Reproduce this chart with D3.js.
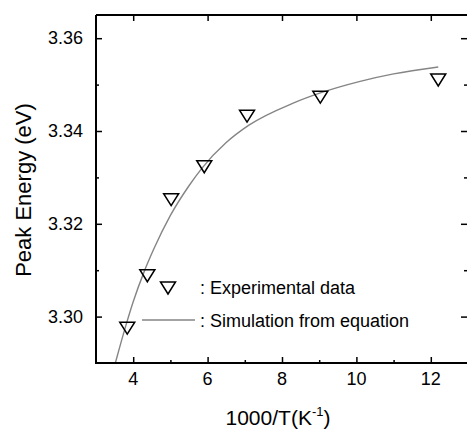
<!DOCTYPE html>
<html>
<head>
<meta charset="utf-8">
<script src="https://cdn.jsdelivr.net/npm/d3@7"></script>
<style>
  body { margin: 0; background: #fff; }
  text { font-family: "Liberation Sans", Arial, sans-serif; fill: #000; }
</style>
</head>
<body>
<div id="chart"></div>
<script>
// experimental points (1000/T, peak energy)
var expX = [3.84, 4.38, 5.02, 5.91, 7.06, 9.03, 12.2];
var expY = [3.2975, 3.3088, 3.3252, 3.3323, 3.3432, 3.3473, 3.3510];

// simulated curve
var simX = [3.52, 3.80, 4.00, 4.30, 4.55, 5.00, 5.50, 5.85, 6.50, 7.10, 8.30, 9.03, 10.10, 11.00, 12.20];
var simY = [3.2900, 3.2980, 3.3032, 3.3098, 3.3145, 3.3218, 3.3282, 3.3320, 3.3375, 3.3412, 3.3460, 3.3482, 3.3507, 3.3523, 3.3538];

var xTicks = [4, 6, 8, 10, 12];
var xMinor = [5, 7, 9, 11];
var yTicks = [3.30, 3.32, 3.34, 3.36];
var yMinor = [3.31, 3.33, 3.35];

var W = 467, H = 431;
var pl = 96, pr = 468, pt = 15, pb = 363;

var svg = d3.select("#chart")
  .append("svg")
    .attr("width", W)
    .attr("height", H);

var x = d3.scaleLinear().domain([3, 13]).range([pl, pr]);
var y = d3.scaleLinear().domain([3.29, 3.365]).range([pb, pt]);

// simulation curve
var line = d3.line()
  .x(function(d) { return x(d[0]); })
  .y(function(d) { return y(d[1]); })
  .curve(d3.curveMonotoneX);

svg.append("path")
  .datum(d3.zip(simX, simY))
  .attr("d", line)
  .attr("fill", "none")
  .attr("stroke", "#858585")
  .attr("stroke-width", 1.4);

// axes, ticks pointing inward
function tickAxis(axisFn, scale, vals, size, tr) {
  svg.append("g")
    .attr("transform", tr)
    .call(axisFn(scale).tickValues(vals).tickSize(size).tickFormat(""))
    .call(function(g) { g.select(".domain").remove(); })
    .selectAll("line").attr("stroke", "#000").attr("stroke-width", 1.5);
}
tickAxis(d3.axisTop, x, xTicks, 6, "translate(0," + pb + ")");
tickAxis(d3.axisTop, x, xMinor, 3, "translate(0," + pb + ")");
tickAxis(d3.axisBottom, x, xTicks, 6, "translate(0," + pt + ")");
tickAxis(d3.axisRight, y, yTicks, 6, "translate(" + pl + ",0)");
tickAxis(d3.axisRight, y, yMinor, 3, "translate(" + pl + ",0)");
tickAxis(d3.axisLeft, y, yTicks, 6, "translate(" + (pr - 1) + ",0)");
tickAxis(d3.axisLeft, y, yMinor, 3, "translate(" + (pr - 1) + ",0)");

// tick labels
svg.append("g").selectAll("text")
  .data(xTicks).enter().append("text")
    .attr("x", function(d) { return x(d); })
    .attr("y", 385)
    .attr("text-anchor", "middle")
    .attr("font-size", "18px")
    .text(function(d) { return d; });

svg.append("g").selectAll("text")
  .data(yTicks).enter().append("text")
    .attr("x", 83)
    .attr("y", function(d) { return y(d) + 6; })
    .attr("text-anchor", "end")
    .attr("font-size", "18px")
    .text(function(d) { return d.toFixed(2); });

// frame
svg.append("path")
  .attr("d", "M" + pl + "," + pt + "H" + pr + "M" + pl + "," + pt + "V" + pb + "H" + pr)
  .attr("fill", "none")
  .attr("stroke", "#000")
  .attr("stroke-width", 2);

// markers
var tri = "M-7.5,-6L7.5,-6L0,6Z";
svg.append("g").selectAll("path")
  .data(d3.zip(expX, expY)).enter().append("path")
    .attr("d", tri)
    .attr("transform", function(d) { return "translate(" + x(d[0]) + "," + y(d[1]) + ")"; })
    .attr("fill", "none")
    .attr("stroke", "#000")
    .attr("stroke-width", 1.5);

// legend
svg.append("path")
  .attr("d", tri)
  .attr("transform", "translate(168,288)")
  .attr("fill", "none")
  .attr("stroke", "#000")
  .attr("stroke-width", 1.5);
svg.append("text")
  .attr("x", 200).attr("y", 294)
  .attr("font-size", "18px")
  .text(": Experimental data");
svg.append("line")
  .attr("x1", 142).attr("x2", 195)
  .attr("y1", 320).attr("y2", 320)
  .attr("stroke", "#858585")
  .attr("stroke-width", 1.4);
svg.append("text")
  .attr("x", 200).attr("y", 327)
  .attr("font-size", "18px")
  .text(": Simulation from equation");

// axis titles
var xt = svg.append("text")
  .attr("x", 278)
  .attr("y", 425)
  .attr("text-anchor", "middle")
  .attr("font-size", "21px")
  .text("1000/T(K");
xt.append("tspan").attr("font-size", "13px").attr("dy", -9).text("-1");
xt.append("tspan").attr("dy", 9).text(")");

svg.append("text")
  .attr("transform", "translate(31,190) rotate(-90)")
  .attr("text-anchor", "middle")
  .attr("font-size", "22px")
  .text("Peak Energy (eV)");
</script>
</body>
</html>
